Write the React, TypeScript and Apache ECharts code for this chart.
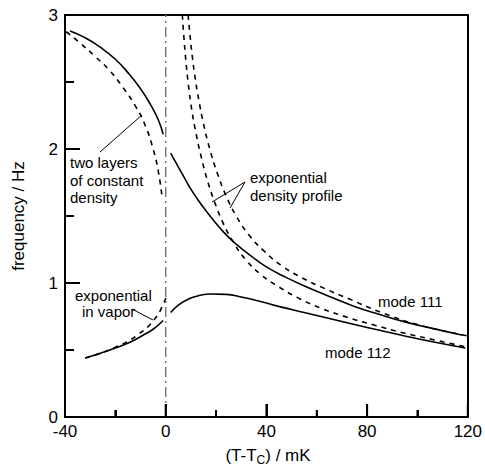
import React, { useEffect, useRef } from "react";
import * as echarts from "echarts";

// ---- data (x in mK, y in Hz) ----
const m111LayersLeftX = [-38, -32, -26, -20, -15, -10, -6, -3, -1];
const m111LayersLeftY = [2.88, 2.83, 2.76, 2.67, 2.57, 2.45, 2.33, 2.22, 2.11];

const m111LayersRightX = [2, 4, 7, 10, 14, 18, 23, 28, 34, 40, 48, 56, 65, 75, 85, 95, 105, 118];
const m111LayersRightY = [1.97, 1.9, 1.8, 1.7, 1.59, 1.49, 1.38, 1.29, 1.2, 1.12, 1.04, 0.97, 0.9, 0.825, 0.765, 0.71, 0.665, 0.61];

const m111DashLeftX = [-39.5, -34, -28, -22, -17, -12, -8, -5, -3, -1.5];
const m111DashLeftY = [2.875, 2.79, 2.69, 2.58, 2.46, 2.32, 2.17, 2.0, 1.84, 1.65];

const m112LayersLeftX = [-32, -26, -20, -14, -9, -5, -1];
const m112LayersLeftY = [0.44, 0.475, 0.515, 0.56, 0.61, 0.655, 0.72];

const m112LayersRightX = [2, 5, 9, 13, 18, 24, 30, 38, 46, 55, 65, 75, 85, 95, 107, 119];
const m112LayersRightY = [0.78, 0.835, 0.88, 0.905, 0.918, 0.915, 0.895, 0.86, 0.82, 0.78, 0.735, 0.69, 0.647, 0.605, 0.558, 0.515];

const m112VaporX = [-32, -26, -20, -15, -11, -7, -4, -2, 0.3];
const m112VaporY = [0.44, 0.475, 0.52, 0.565, 0.615, 0.675, 0.74, 0.8, 0.9];

const m111ExpX = [8.9, 9.6, 10.5, 11.7, 13.2, 15, 17.5, 20.5, 24, 28, 33, 39, 46, 54, 63, 73, 85, 100, 120];
const m111ExpY = [3.0, 2.86, 2.7, 2.53, 2.36, 2.19, 2.0, 1.82, 1.65, 1.5, 1.36, 1.24, 1.13, 1.04, 0.96, 0.88, 0.785, 0.69, 0.605];

const m112ExpX = [6.6, 7.2, 8.0, 9.0, 10.3, 12, 14, 16.5, 19.5, 23, 27, 32, 38, 45, 53, 62, 72, 83, 95, 108, 120];
const m112ExpY = [3.0, 2.84, 2.66, 2.48, 2.3, 2.12, 1.95, 1.77, 1.6, 1.44, 1.3, 1.17, 1.06, 0.97, 0.885, 0.81, 0.745, 0.685, 0.625, 0.57, 0.52];

const criticalX = [0, 0];
const criticalY = [0, 3];

const xTicks = [-40, 0, 40, 80, 120];
const xMinorTicks = [-20, 20, 60, 100];
const yTicks = [0, 1, 2, 3];
const yMinorTicks = [0.5, 1.5, 2.5];

const zip = (xs: number[], ys: number[]) => xs.map((x, i) => [x, ys[i]]);

const FONT = "'Liberation Sans', Arial, Helvetica, sans-serif";

// layout (px)
const W = 485;
const H = 472;
const GRID = { left: 65, right: 15, top: 15, bottom: 55 };

export default function App() {
  const ref = useRef<HTMLDivElement>(null);

  useEffect(() => {
    if (!ref.current) return;
    const chart = echarts.init(ref.current, null, { renderer: "svg" });

    const xMin = xTicks[0];
    const xMax = xTicks[xTicks.length - 1];
    const yMin = yTicks[0];
    const yMax = yTicks[yTicks.length - 1];
    const plotW = W - GRID.left - GRID.right;
    const plotH = H - GRID.top - GRID.bottom;
    const hzPerPx = (yMax - yMin) / plotH;
    const mkPerPx = (xMax - xMin) / plotW;

    const line = (name: string, xs: number[], ys: number[], dashed: boolean) => ({
      name,
      type: "line",
      xAxisIndex: 0,
      yAxisIndex: 0,
      data: zip(xs, ys),
      showSymbol: false,
      smooth: 0.5,
      lineStyle: { color: "#000", width: 1.6, type: dashed ? [5, 5] : "solid" },
      z: 3,
    });

    // each tick drawn as a tiny 2-point line series on the chart's own axes
    const tickSeries: any[] = [];
    const addXTick = (v: number, lenPx: number) =>
      tickSeries.push({
        name: `xtick ${v}`,
        type: "line",
        data: [
          [v, yMin],
          [v, yMin + lenPx * hzPerPx],
        ],
        showSymbol: false,
        silent: true,
        clip: false,
        lineStyle: { color: "#000", width: 2, type: "solid" },
        z: 5,
      });
    const addYTick = (v: number, lenPx: number) =>
      tickSeries.push({
        name: `ytick ${v}`,
        type: "line",
        data: [
          [xMin, v],
          [xMin + lenPx * mkPerPx, v],
        ],
        showSymbol: false,
        silent: true,
        clip: false,
        lineStyle: { color: "#000", width: 2, type: "solid" },
        z: 5,
      });
    xTicks.forEach((v) => addXTick(v, 13));
    xMinorTicks.forEach((v) => addXTick(v, 7));
    yTicks.forEach((v) => addYTick(v, 15));
    yMinorTicks.forEach((v) => addYTick(v, 9));

    const ann = (text: string, x: number, y: number, size = 15) => ({
      type: "text",
      x,
      y,
      style: {
        text,
        fill: "#000",
        font: `${size}px ${FONT}`,
        textAlign: "left",
        textVerticalAlign: "middle",
      },
      z: 10,
    });
    const lead = (x1: number, y1: number, x2: number, y2: number) => ({
      type: "line",
      shape: { x1, y1, x2, y2 },
      style: { stroke: "#000", lineWidth: 1 },
      z: 10,
    });

    const hidden = {
      splitLine: { show: false },
      axisTick: { show: false },
      axisLabel: { show: false },
    };

    chart.setOption({
      animation: false,
      backgroundColor: "#fff",
      grid: { ...GRID, show: false },
      xAxis: [
        {
          type: "value",
          position: "bottom",
          min: xMin,
          max: xMax,
          interval: 40,
          splitLine: { show: false },
          axisLine: { show: true, onZero: false, lineStyle: { color: "#000", width: 2 } },
          axisTick: { show: true, inside: true, length: 13, lineStyle: { color: "#000", width: 2 } },
          minorTick: { show: true, splitNumber: 2, length: 7, lineStyle: { color: "#000", width: 2 } },
          axisLabel: { show: true, color: "#000", fontSize: 17, fontFamily: FONT, margin: 7, lineHeight: 15 },
        },
        {
          type: "value",
          position: "top",
          min: xMin,
          max: xMax,
          interval: 40,
          ...hidden,
          axisLine: { show: true, onZero: false, lineStyle: { color: "#000", width: 2 } },
        },
      ],
      yAxis: [
        {
          type: "value",
          position: "left",
          min: yMin,
          max: yMax,
          interval: 1,
          splitLine: { show: false },
          axisLine: { show: true, onZero: false, lineStyle: { color: "#000", width: 2 } },
          axisTick: { show: true, inside: true, length: 15, lineStyle: { color: "#000", width: 2 } },
          minorTick: { show: true, splitNumber: 2, length: 9, lineStyle: { color: "#000", width: 2 } },
          axisLabel: {
            show: true,
            color: "#000",
            fontSize: 17,
            fontFamily: FONT,
            margin: 7,
            lineHeight: 13,
            padding: [0, 0, 8, 0],
          },
        },
        {
          type: "value",
          position: "right",
          min: yMin,
          max: yMax,
          interval: 1,
          ...hidden,
          axisLine: { show: true, onZero: false, lineStyle: { color: "#000", width: 2 } },
        },
      ],
      series: [
        {
          name: "critical",
          type: "line",
          data: zip(criticalX, criticalY),
          showSymbol: false,
          lineStyle: { color: "#777", width: 1.5, type: [10, 4, 2, 4] },
          z: 2,
        },
        line("mode 111 layers left", m111LayersLeftX, m111LayersLeftY, false),
        line("mode 111 layers right", m111LayersRightX, m111LayersRightY, false),
        line("mode 111 dashed left", m111DashLeftX, m111DashLeftY, true),
        line("mode 112 layers left", m112LayersLeftX, m112LayersLeftY, false),
        line("mode 112 layers right", m112LayersRightX, m112LayersRightY, false),
        line("mode 112 exponential in vapor", m112VaporX, m112VaporY, true),
        line("mode 111 exponential profile", m111ExpX, m111ExpY, true),
        line("mode 112 exponential profile", m112ExpX, m112ExpY, true),
        ...tickSeries,
      ],
      graphic: [
        ann("two layers", 70, 162),
        ann("of constant", 70, 180),
        ann("density", 70, 197),
        lead(100, 152, 142, 115),
        ann("exponential", 250, 177),
        ann("density profile", 250, 195),
        lead(245, 182, 212, 202),
        lead(245, 182, 230, 208),
        ann("exponential", 75, 295),
        ann("in vapor", 82, 311),
        lead(132, 309, 153, 320),
        ann("mode 111", 378, 301),
        ann("mode 112", 325, 352),
        {
          type: "text",
          x: 268,
          y: 455,
          style: {
            text: "(T-T{s|C}) / mK",
            fill: "#000",
            font: `17px ${FONT}`,
            textAlign: "center",
            textVerticalAlign: "middle",
            rich: { s: { fontSize: 12, fontFamily: FONT, fill: "#000", padding: [10, 0, 0, 0] } },
          },
        },
        {
          type: "text",
          x: 18,
          y: 216,
          rotation: Math.PI / 2,
          style: {
            text: "frequency / Hz",
            fill: "#000",
            font: `17px ${FONT}`,
            textAlign: "center",
            textVerticalAlign: "middle",
          },
        },
      ],
    });

    return () => chart.dispose();
  }, []);

  return (
    <div
      ref={ref}
      style={{ position: "fixed", left: 0, top: 0, width: W, height: H, background: "#fff" }}
    />
  );
}
